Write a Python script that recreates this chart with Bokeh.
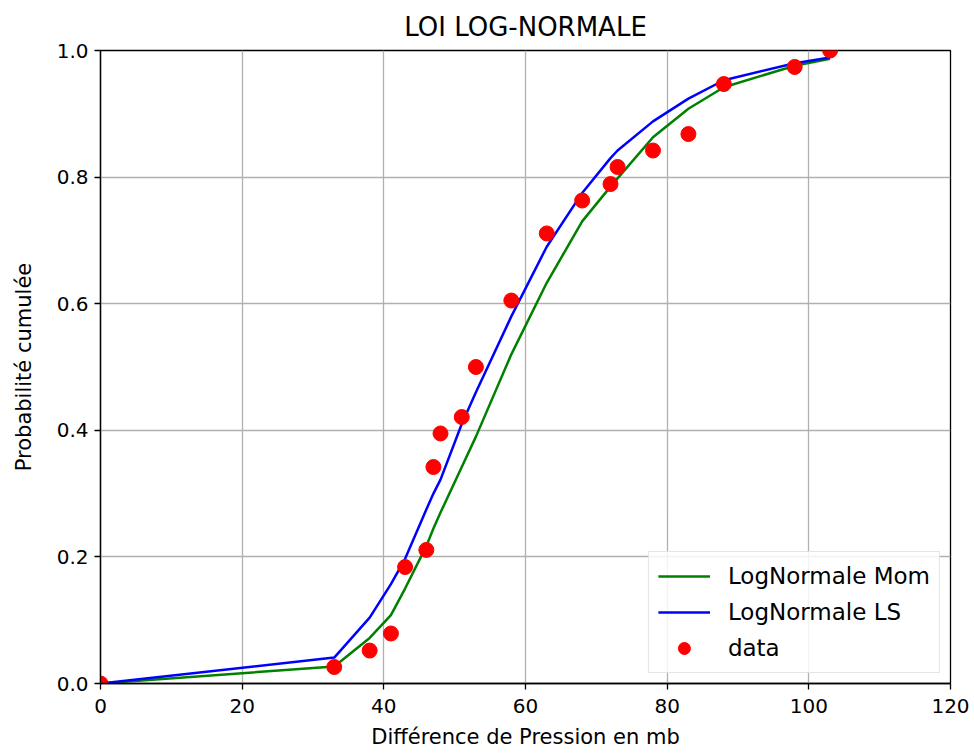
from bokeh.plotting import figure
from bokeh.models import Range1d, FixedTicker, NumeralTickFormatter, Legend, LegendItem
from bokeh.embed import file_html
from bokeh.resources import INLINE

# ---- data ----
x_vals = [0, 33, 38, 41, 43, 46, 47, 48, 51, 53, 58, 63, 68, 72, 73, 78, 83, 88, 98, 103]
p_data = [0.0, 0.026, 0.052, 0.079, 0.184, 0.211, 0.342, 0.395, 0.421, 0.5, 0.605,
          0.711, 0.763, 0.789, 0.816, 0.842, 0.868, 0.947, 0.974, 1.0]
p_mom = [0.0, 0.027, 0.072, 0.108, 0.15, 0.217, 0.245, 0.27, 0.342, 0.39, 0.52,
         0.633, 0.73, 0.785, 0.798, 0.863, 0.908, 0.942, 0.976, 0.987]
p_ls = [0.0, 0.041, 0.104, 0.157, 0.197, 0.275, 0.30, 0.322, 0.41, 0.46, 0.58,
        0.69, 0.775, 0.83, 0.842, 0.888, 0.924, 0.953, 0.98, 0.989]
x_ticks = [0, 20, 40, 60, 80, 100, 120]
y_ticks = [0.0, 0.2, 0.4, 0.6, 0.8, 1.0]

FONT = "DejaVu Sans"

p = figure(width=974, height=754, output_backend="svg", toolbar_location=None,
           x_range=Range1d(0, 120), y_range=Range1d(0, 1),
           title="LOI LOG-NORMALE",
           min_border_left=100, min_border_right=24, min_border_top=50, min_border_bottom=71)

p.title.align = "center"
p.title.text_font = FONT
p.title.text_font_size = "26px"
p.title.text_font_style = "normal"
p.title.text_color = "black"
p.title.standoff = 18

p.outline_line_color = "black"
p.outline_line_width = 1.3
p.background_fill_color = "white"
p.border_fill_color = "white"

for ax in (p.xaxis[0], p.yaxis[0]):
    ax.axis_line_color = "black"
    ax.axis_line_width = 1.3
    ax.major_tick_line_color = "black"
    ax.major_tick_line_width = 1.3
    ax.major_tick_out = 6
    ax.major_tick_in = 0
    ax.minor_tick_line_color = None
    ax.major_label_text_font = FONT
    ax.major_label_text_font_size = "20px"
    ax.major_label_text_color = "black"
    ax.axis_label_text_font = FONT
    ax.axis_label_text_font_size = "21px"
    ax.axis_label_text_font_style = "normal"
    ax.axis_label_text_color = "black"

p.xaxis.major_label_standoff = 9
p.xaxis.axis_label_standoff = 9
p.yaxis.major_label_standoff = 6
p.yaxis.axis_label_standoff = 18

p.xaxis.ticker = FixedTicker(ticks=x_ticks)
p.yaxis.ticker = FixedTicker(ticks=y_ticks)
p.yaxis.formatter = NumeralTickFormatter(format="0.0")
p.xaxis.axis_label = "Différence de Pression en mb"
p.yaxis.axis_label = "Probabilité cumulée"

p.xgrid.ticker = FixedTicker(ticks=x_ticks)
p.ygrid.ticker = FixedTicker(ticks=y_ticks)
for g in (p.xgrid[0], p.ygrid[0]):
    g.grid_line_color = "#b0b0b0"
    g.grid_line_width = 1.3

r_mom = p.line(x_vals, p_mom, line_color="#008000", line_width=2.5)
r_ls = p.line(x_vals, p_ls, line_color="#0000ff", line_width=2.5)
r_data = p.scatter(x_vals, p_data, size=15, fill_color="#ff0000", line_color="#ff0000")

legend = Legend(items=[
    LegendItem(label="LogNormale Mom", renderers=[r_mom]),
    LegendItem(label="LogNormale LS", renderers=[r_ls]),
    LegendItem(label="data", renderers=[r_data]),
], location="bottom_right")
legend.label_text_font = FONT
legend.label_text_font_size = "23px"
legend.label_text_color = "black"
legend.glyph_width = 52
legend.glyph_height = 30
legend.label_height = 30
legend.spacing = 6
legend.padding = 9
legend.margin = 10
legend.label_standoff = 18
legend.border_line_color = "#cccccc"
legend.border_line_width = 1.3
legend.background_fill_alpha = 0.85
p.add_layout(legend)

open("out.html", "w").write(file_html(p, INLINE))
